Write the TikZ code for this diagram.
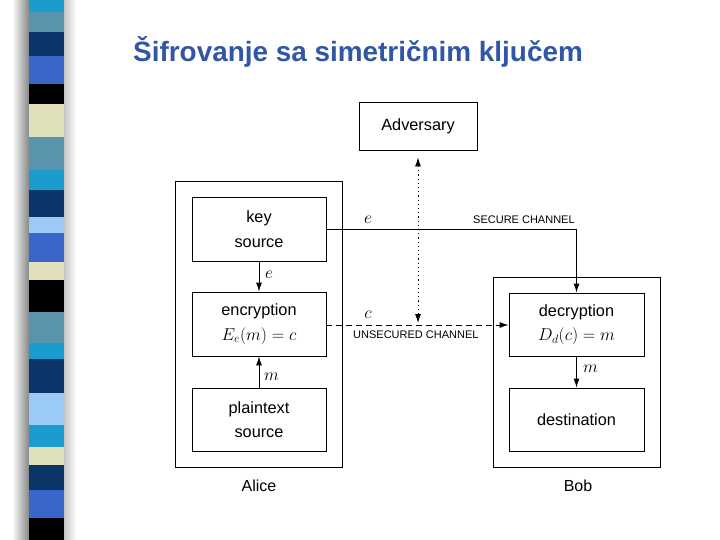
\documentclass[tikz,border=0pt]{standalone}
\usepackage{fontspec}
\setmainfont{Liberation Sans}
\usetikzlibrary{arrows.meta}
\definecolor{cyanS}{HTML}{1A9CCC}
\definecolor{steelS}{HTML}{5A93AC}
\definecolor{navyS}{HTML}{0B3468}
\definecolor{royalS}{HTML}{3A66CC}
\definecolor{beigeS}{HTML}{E0E0BA}
\definecolor{lightS}{HTML}{9CCAF6}
\definecolor{titleblue}{HTML}{3156A6}
\newcommand{\mathbig}[1]{{\fontsize{18}{24}\selectfont$#1$}}
\tikzset{
  box/.style={draw, line width=0.9pt, minimum width=134pt, minimum height=64pt, align=center, inner sep=0pt,
    font=\fontsize{16.3}{24.5}\selectfont},
  outer/.style={draw, line width=0.9pt, inner sep=0pt},
  arr/.style={line width=0.9pt, -{Latex[length=9pt,width=6pt]}},
  lbl/.style={font=\fontsize{16}{18}\selectfont, inner sep=0pt},
  mlbl/.style={font=\fontsize{17.5}{18}\selectfont, inner sep=0pt},
  chan/.style={font=\fontsize{11}{12}\selectfont, inner sep=0pt}
}
\begin{document}
\begin{tikzpicture}[x=1pt,y=-1pt]
\useasboundingbox (0,0) rectangle (720,540);
% shadow of the stripe bar
\shade[left color=white, right color=black!50] (12,0) rectangle (30,540);
\shade[left color=black!25, right color=white] (63,0) rectangle (76,540);
% stripes
\foreach \a/\b/\c in {0/12/cyanS, 12/32/steelS, 32/56/navyS, 56/84/royalS, 84/104/black,
  104/137/beigeS, 137/170/steelS, 170/190/cyanS, 190/217/navyS, 217/233/lightS, 233/262/royalS,
  262/280/beigeS, 280/312/black, 312/343/steelS, 343/359/cyanS, 359/393/navyS, 393/425/lightS,
  425/447/cyanS, 447/465/beigeS, 465/490/navyS, 490/518/royalS, 518/540/black}
  \fill[\c] (29,\a) rectangle (64,\b);
% title
\node[anchor=base west, inner sep=0pt, text=titleblue, font=\fontsize{27.9}{32}\selectfont\bfseries] (title) at (133,62) {Šifrovanje sa simetričnim ključem};
% outer boxes
\node[outer, minimum width=167pt, minimum height=286pt] (alice) at (258.5,324) {};
\node[outer, minimum width=167pt, minimum height=190pt] (bob) at (576.5,372) {};
% inner boxes
\node[box, minimum width=118pt, minimum height=48pt] (adv) at (418,126) {Adversary};
\node[box] (key) at (259,229) {key\\source};
\node[box] (enc) at (259,324) {encryption\\\mathbig{E_e(m)=c}};
\node[box, minimum height=63pt] (plain) at (259,419.5) {plaintext\\source};
\node[box, minimum width=135pt, minimum height=63pt] (dec) at (576.5,324.5) {decryption\\\mathbig{D_d(c)=m}};
\node[box, minimum width=135pt, minimum height=63pt] (dest) at (576.5,419.5) {destination};
% party names
\node[lbl, anchor=base] (alicelbl) at (259,491) {Alice};
\node[lbl, anchor=base] (boblbl) at (578,491) {Bob};
% arrows inside Alice and Bob
\draw[arr] (key.south) -- (enc.north);
\node[mlbl, anchor=west] (le) at (265,275) {$e$};
\draw[arr] (plain.north) -- (enc.south);
\node[mlbl, anchor=west] (lm) at (264,377) {$m$};
\draw[arr] (dec.south) -- (dest.north);
\node[mlbl, anchor=west] (lm2) at (583,369) {$m$};
% secure channel
\draw[arr] (key.east |- 0,229) -| (dec.north);
\node[mlbl, anchor=base] (se) at (368,224) {$e$};
\node[chan, anchor=base west] (sec) at (473,224) {SECURE CHANNEL};
% unsecured channel
\draw[arr, dash pattern=on 6pt off 4pt] (enc.east |- 0,325) -- (dec.west |- 0,325);
\node[mlbl, anchor=base] (uc) at (368,318) {$c$};
\node[chan, anchor=base west] (unsec) at (353,338) {UNSECURED CHANNEL};
% adversary tap
\coordinate (tap) at (418,323);
\draw[line width=0.9pt, dash pattern=on 1.2pt off 3pt, {Latex[length=9pt,width=6pt]}-{Latex[length=9pt,width=6pt]}, shorten <=7pt] (adv.south) -- (tap);
\end{tikzpicture}
\end{document}
